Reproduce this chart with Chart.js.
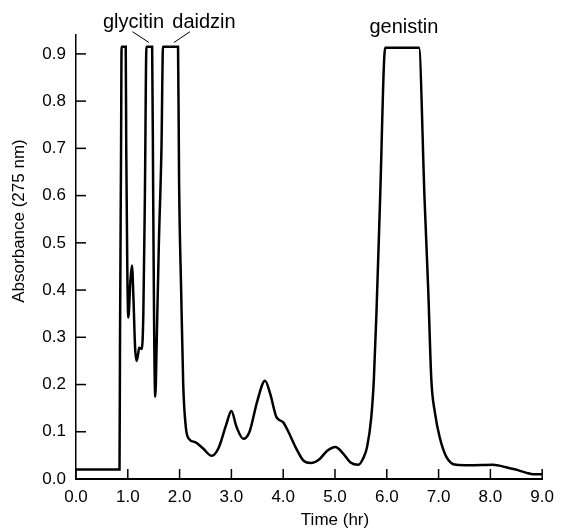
<!DOCTYPE html>
<html>
<head>
<meta charset="utf-8">
<style>
  body { margin: 0; background: #fff; }
  #wrap { position: relative; width: 562px; height: 529px; }
</style>
<script src="https://cdn.jsdelivr.net/npm/chart.js@4.4.1/dist/chart.umd.min.js"></script>
</head>
<body>
<div id="wrap"><canvas id="chart" width="562" height="529"></canvas></div>
<script>
// time axis (hr) and absorbance at 275 nm
const timeHr = [
  0.00, 0.84, 0.85, 0.87, 0.88, 0.96, 0.97, 0.99, 1.01, 1.05,
  1.08, 1.11, 1.14, 1.17, 1.20, 1.22, 1.27, 1.30, 1.33, 1.36,
  1.47, 1.49, 1.51, 1.53, 1.56, 1.60, 1.65, 1.68, 1.97, 1.99,
  2.03, 2.07, 2.12, 2.18, 2.30, 2.45, 2.62, 2.75, 2.90, 3.00,
  3.10, 3.23, 3.35, 3.50, 3.65, 3.75, 3.87, 4.00, 4.10, 4.25,
  4.40, 4.53, 4.70, 4.85, 5.01, 5.15, 5.30, 5.45, 5.55, 5.62,
  5.70, 5.75, 5.80, 5.87, 5.97, 6.62, 6.73, 6.80, 6.86, 6.93,
  7.02, 7.15, 7.34, 7.60, 8.05, 8.30, 8.49, 8.70, 8.83, 9.00
];
const absorbance = [
  0.020, 0.020, 0.300, 0.700, 0.915, 0.915, 0.700, 0.450, 0.342, 0.420,
  0.452, 0.380, 0.280, 0.250, 0.265, 0.278, 0.275, 0.350, 0.600, 0.915,
  0.915, 0.600, 0.300, 0.174, 0.300, 0.500, 0.700, 0.915, 0.915, 0.630,
  0.400, 0.200, 0.110, 0.085, 0.078, 0.065, 0.049, 0.065, 0.115, 0.144,
  0.110, 0.085, 0.100, 0.165, 0.208, 0.180, 0.131, 0.120, 0.100, 0.065,
  0.038, 0.034, 0.042, 0.060, 0.068, 0.055, 0.035, 0.030, 0.045, 0.068,
  0.130, 0.210, 0.350, 0.590, 0.913, 0.913, 0.590, 0.400, 0.210, 0.140,
  0.089, 0.047, 0.030, 0.029, 0.030, 0.025, 0.020, 0.013, 0.010, 0.010
];
const xTicks = [0, 1, 2, 3, 4, 5, 6, 7, 8, 9];
const yTicks = [0, 0.1, 0.2, 0.3, 0.4, 0.5, 0.6, 0.7, 0.8, 0.9];

// peak names: label position and where the leader line points
const peakNames = ["glycitin", "daidzin", "genistin"];
const labelX = [1.11, 2.47, 6.33];
const labelY = [0.966, 0.966, 0.956];
const leaderFrom = [[1.09, 0.947], [2.20, 0.947], null];
const leaderTo = [[1.41, 0.924], [1.89, 0.924], null];

const FONT = "'Liberation Sans', Arial, Helvetica, sans-serif";

const extras = {
  id: "extras",
  afterDraw(chart) {
    const { ctx, scales: { x, y }, chartArea } = chart;
    ctx.save();
    ctx.strokeStyle = "#000";
    ctx.lineWidth = 1.5;
    // inward tick marks
    xTicks.forEach(v => {
      const px = x.getPixelForValue(v);
      ctx.beginPath();
      ctx.moveTo(px, chartArea.bottom);
      ctx.lineTo(px, chartArea.bottom - 10);
      ctx.stroke();
    });
    yTicks.forEach(v => {
      const py = y.getPixelForValue(v);
      ctx.beginPath();
      ctx.moveTo(chartArea.left, py);
      ctx.lineTo(chartArea.left + 10, py);
      ctx.stroke();
    });

    // peak labels
    ctx.fillStyle = "#000";
    ctx.font = "20px " + FONT;
    ctx.textAlign = "center";
    ctx.textBaseline = "middle";
    peakNames.forEach((name, i) => {
      ctx.fillText(name, x.getPixelForValue(labelX[i]), y.getPixelForValue(labelY[i]));
      if (leaderFrom[i]) {
        ctx.lineWidth = 1;
        ctx.beginPath();
        ctx.moveTo(x.getPixelForValue(leaderFrom[i][0]), y.getPixelForValue(leaderFrom[i][1]));
        ctx.lineTo(x.getPixelForValue(leaderTo[i][0]), y.getPixelForValue(leaderTo[i][1]));
        ctx.stroke();
      }
    });

    // axis titles
    ctx.font = "17px " + FONT;
    ctx.fillText("Time (hr)", 335, 520);
    ctx.translate(19, 221);
    ctx.rotate(-Math.PI / 2);
    ctx.fillText("Absorbance (275 nm)", 0, 0);
    ctx.restore();
  }
};

const ctx = document.getElementById("chart").getContext("2d");
new Chart(ctx, {
  type: "line",
  data: {
    datasets: [{
      data: timeHr.map((t, i) => ({ x: t, y: absorbance[i] })),
      borderColor: "#000",
      borderWidth: 2.5,
      pointRadius: 0,
      fill: false,
      cubicInterpolationMode: "monotone"
    }]
  },
  options: {
    responsive: false,
    animation: false,
    layout: { padding: { top: 35, right: 15, left: 0, bottom: 0 } },
    plugins: { legend: { display: false }, tooltip: { enabled: false } },
    scales: {
      x: {
        type: "linear",
        min: 0,
        max: 9,
        afterBuildTicks: s => { s.ticks = xTicks.map(v => ({ value: v })); },
        afterFit: s => { s.height = 50; },
        grid: { display: false, drawTicks: false },
        border: { color: "#000", width: 2 },
        ticks: {
          padding: 8,
          color: "#000",
          font: { family: FONT, size: 17 },
          maxRotation: 0,
          callback: v => v.toFixed(1)
        }
      },
      y: {
        min: 0,
        max: 0.94,
        afterBuildTicks: s => { s.ticks = yTicks.map(v => ({ value: v })); },
        afterFit: s => { s.width = 76; },
        grid: { display: false, drawTicks: false },
        border: { color: "#000", width: 1.5 },
        ticks: {
          padding: 10,
          color: "#000",
          font: { family: FONT, size: 17 },
          callback: v => v.toFixed(1)
        }
      }
    }
  },
  plugins: [extras]
});
</script>
</body>
</html>
